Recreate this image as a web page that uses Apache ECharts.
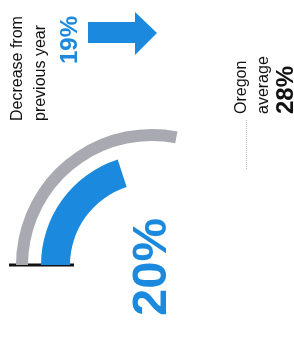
<!DOCTYPE html>
<html>
<head>
<meta charset="utf-8">
<style>
html,body{margin:0;padding:0;background:#fff;}
#chart{width:294px;height:339px;}
</style>
<script src="https://cdn.jsdelivr.net/npm/echarts@6/dist/echarts.min.js"></script>
</head>
<body>
<div id="chart"></div>
<script>
// Data
var scaleMax = 50;
var countyValue = 20;          // blue arc, percent
var oregonAverage = 28;        // gray arc, percent
var changeValue = 19;          // decrease from previous year, percent
var changeLabel = ['Decrease from', 'previous year'];
var averageLabel = ['Oregon', 'average'];

var BLUE = '#1b8ade';
var GRAY = '#a9a9b1';
var cx = 152, cy = 265;

var chart = echarts.init(document.getElementById('chart'), null, {renderer: 'canvas'});

function gauge(value, radius, width, color) {
  return {
    type: 'gauge',
    center: [cx, cy],
    radius: radius,
    min: 0,
    max: scaleMax,
    startAngle: 180,
    endAngle: 0,
    progress: {show: true, width: width, itemStyle: {color: color}},
    axisLine: {show: false},
    axisTick: {show: false},
    splitLine: {show: false},
    axisLabel: {show: false},
    pointer: {show: false},
    anchor: {show: false},
    title: {show: false},
    detail: {show: false},
    data: [{value: value}]
  };
}

var R = Math.PI / 2;
function rtext(x, y, text, font, color) {
  return {
    type: 'text', x: x, y: y, rotation: R,
    style: {text: text, font: font, fill: color, align: 'left', verticalAlign: 'top',
            textAlign: 'left', textVerticalAlign: 'top'}
  };
}

var option = {
  animation: false,
  backgroundColor: '#fff',
  series: [
    gauge(oregonAverage, 136, 12, GRAY),
    gauge(countyValue, 111, 29, BLUE)
  ],
  graphic: [
    // baseline at zero
    {type: 'line', shape: {x1: cx - 143, y1: cy, x2: cx - 78, y2: cy},
     style: {stroke: '#111', lineWidth: 3}},
    // leader for Oregon average
    {type: 'line', shape: {x1: 246.5, y1: 120, x2: 246.5, y2: 170},
     style: {stroke: '#bbb', lineWidth: 1, lineDash: [1, 1]}},
    // down arrow (rotated)
    {type: 'polygon', shape: {points: [[88, 22], [135, 22], [135, 12], [157, 33], [135, 55], [135, 43], [88, 43]]},
     style: {fill: BLUE}},
    rtext(10, 121, changeLabel[0], '16px "Liberation Sans", Arial, sans-serif', '#111'),
    rtext(33, 121, changeLabel[1], '16px "Liberation Sans", Arial, sans-serif', '#111'),
    rtext(58, 64, changeValue + '%', 'bold 24px "Liberation Sans", Arial, sans-serif', BLUE),
    rtext(128, 316, countyValue + '%', 'bold 49px "Liberation Sans", Arial, sans-serif', BLUE),
    rtext(234, 114, averageLabel[0], '16px "Liberation Sans", Arial, sans-serif', '#111'),
    rtext(256, 114, averageLabel[1], '16px "Liberation Sans", Arial, sans-serif', '#111'),
    rtext(274, 114, oregonAverage + '%', 'bold 24px "Liberation Sans", Arial, sans-serif', '#111')
  ]
};
chart.setOption(option);
</script>
</body>
</html>
